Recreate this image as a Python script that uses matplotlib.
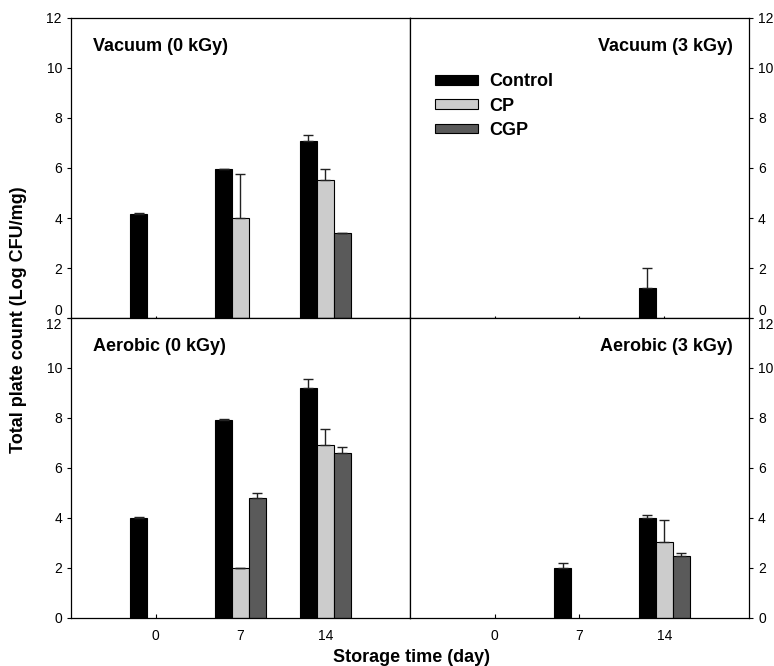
import numpy as np
import matplotlib.pyplot as plt
from matplotlib.patches import Patch

plt.rcParams['font.family'] = ['Liberation Sans', 'DejaVu Sans']

days = ["0", "7", "14"]
groups = ["Control", "CP", "CGP"]
colors = ["#000000", "#cccccc", "#5a5a5a"]

# mean values per panel: rows = Control, CP, CGP; columns = day 0, 7, 14 (nan = no bar)
vac0 = [[4.17, 5.97, 7.08], [np.nan, 4.02, 5.52], [np.nan, np.nan, 3.40]]
vac0_err = [[0.03, 0.0, 0.22], [0, 1.75, 0.43], [0, 0, 0.02]]
vac3 = [[np.nan, np.nan, 1.2], [np.nan, np.nan, np.nan], [np.nan, np.nan, np.nan]]
vac3_err = [[0, 0, 0.8], [0, 0, 0], [0, 0, 0]]
aer0 = [[4.01, 7.93, 9.19], [np.nan, 2.01, 6.93], [np.nan, 4.79, 6.59]]
aer0_err = [[0.03, 0.02, 0.38], [0, 0, 0.62], [0, 0.2, 0.24]]
aer3 = [[np.nan, 2.01, 4.01], [np.nan, np.nan, 3.05], [np.nan, np.nan, 2.49]]
aer3_err = [[0, 0.19, 0.12], [0, 0, 0.87], [0, 0, 0.1]]

panels = [("Vacuum (0 kGy)", vac0, vac0_err),
          ("Vacuum (3 kGy)", vac3, vac3_err),
          ("Aerobic (0 kGy)", aer0, aer0_err),
          ("Aerobic (3 kGy)", aer3, aer3_err)]

fig = plt.figure(figsize=(7.74, 6.66), dpi=100)
w, h = 0.438, 0.4505
x0, ymid, ybot = 0.0917, 0.5225, 0.0721
rects = [[x0, ymid, w, h], [x0 + w, ymid, w, h],
         [x0, ybot, w, h], [x0 + w, ybot, w, h]]

x = np.arange(len(days))
offsets = [-0.2, 0.0, 0.2]
bw = 0.2
yt = list(range(0, 13, 2))

axs = []
for i, (title, vals, errs) in enumerate(panels):
    ax = fig.add_axes(rects[i])
    axs.append(ax)
    for g in range(3):
        v = np.array(vals[g], dtype=float)
        e = np.array(errs[g], dtype=float)
        m = ~np.isnan(v)
        if not m.any():
            continue
        ax.bar(x[m] + offsets[g], v[m], bw, color=colors[g], edgecolor="black",
               linewidth=0.8, zorder=2,
               yerr=[np.zeros(m.sum()), e[m]],
               error_kw=dict(ecolor="#222222", elinewidth=1, capsize=3.5, capthick=1))
    ax.set_xlim(-1, 3)
    ax.set_ylim(0, 12)
    ticks = ax.set_yticks(yt, [str(t) for t in yt])
    # stacked 0 / 12 labels where the panels meet
    t = ticks[0] if i < 2 else ticks[-1]
    va = "bottom" if i < 2 else "top"
    t.label1.set_va(va)
    t.label2.set_va(va)
    ax.set_xticks(x)
    ax.tick_params(axis="x", direction="in", length=3 if i >= 2 else 1.5, pad=8)
    ax.tick_params(axis="y", direction="out", length=3, labelsize=10)
    if i % 2 == 1:
        ax.yaxis.tick_right()
        ax.text(0.953, 0.905, title, transform=ax.transAxes, ha="right", va="center",
                fontsize=13, fontweight="bold")
    else:
        ax.text(0.065, 0.905, title, transform=ax.transAxes, ha="left", va="center",
                fontsize=13, fontweight="bold")
    if i < 2:
        ax.set_xticklabels([])
    else:
        ax.set_xticklabels(days, fontsize=10)
    for s in ax.spines.values():
        s.set_linewidth(0.9)

handles = [Patch(facecolor=c, edgecolor="black", linewidth=0.8) for c in colors]
axs[1].legend(handles, groups, loc="upper left", bbox_to_anchor=(0.074, 0.815), frameon=False,
              borderpad=0, borderaxespad=0,
              handlelength=2.4, handleheight=0.45, labelspacing=0.4,
              prop=dict(weight="bold", size=13), handletextpad=0.6)

fig.text(0.024, 0.52, "Total plate count (Log CFU/mg)", rotation=90,
         ha="center", va="center", fontsize=13, fontweight="bold")
fig.text(0.532, 0.013, "Storage time (day)", ha="center", va="center",
         fontsize=13, fontweight="bold")

fig.savefig("out.png", dpi=100)
